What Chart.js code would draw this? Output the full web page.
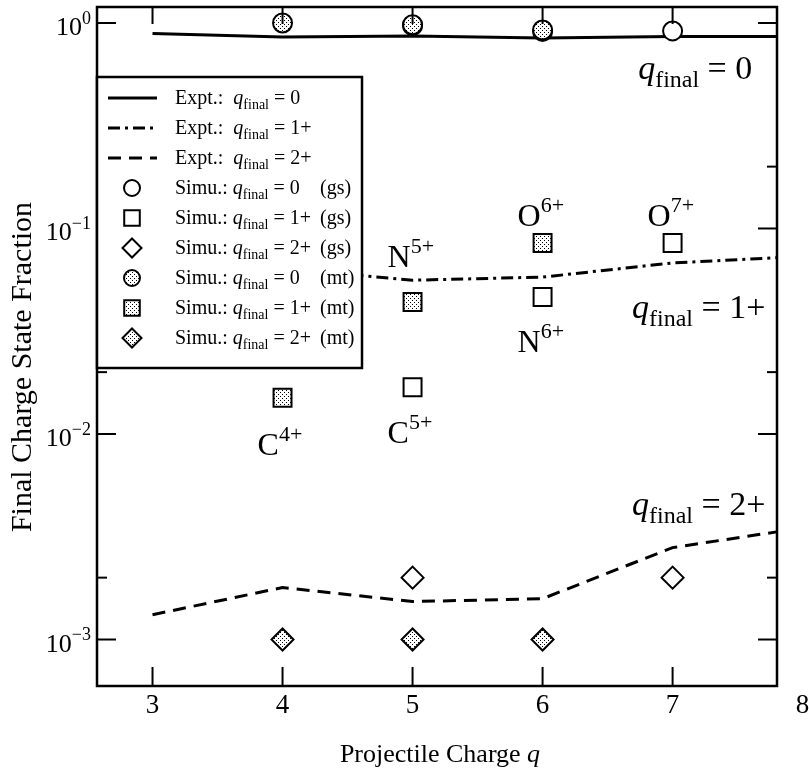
<!DOCTYPE html>
<html>
<head>
<meta charset="utf-8">
<script src="https://cdn.jsdelivr.net/npm/chart.js@4.4.0/dist/chart.umd.min.js"></script>
<style>
  html, body { margin: 0; padding: 0; background: #fff; }
  canvas { display: block; }
</style>
</head>
<body>
<canvas id="chart" width="809" height="779"></canvas>
<script>
// ---- data ----
const xTickValues = [3, 4, 5, 6, 7, 8];
const yMajorTicks = [1, 0.1, 0.01, 0.001];
const yMajorExponents = ['0', '\u22121', '\u22122', '\u22123'];
const yMinorTicks = [0.2, 0.02, 0.002];

const exptCharge = [3, 4, 5, 6, 7, 7.8];
const exptFinal0 = [0.89, 0.855, 0.865, 0.845, 0.86, 0.86];
const exptFinal1 = [0.075, 0.064, 0.056, 0.058, 0.068, 0.072];
const exptFinal2 = [0.00132, 0.00179, 0.00153, 0.00158, 0.0028, 0.00334];

const simuGs0Charge = [5, 6, 7];
const simuGs0 = [0.97, 0.91, 0.915];
const simuGs1Charge = [5, 6, 7];
const simuGs1 = [0.0169, 0.0464, 0.085];
const simuGs2Charge = [5, 7];
const simuGs2 = [0.002, 0.002];

const simuMt0Charge = [4, 5, 6];
const simuMt0 = [1.0, 0.98, 0.925];
const simuMt1Charge = [4, 5, 6];
const simuMt1 = [0.015, 0.0439, 0.085];
const simuMt2Charge = [4, 5, 6];
const simuMt2 = [0.001, 0.001, 0.001];

// ion labels: element, charge, projectile charge, fraction at text baseline
const ionNames = ['C', 'C', 'N', 'N', 'O', 'O'];
const ionCharges = ['4+', '5+', '5+', '6+', '6+', '7+'];
const ionAtQ = [4, 5, 5, 6, 6, 7];
const ionAtFraction = [0.0079, 0.00904, 0.065, 0.0251, 0.1028, 0.1028];

// q_final curve labels
const finalNames = ['0', '1+', '2+'];
const finalAtQ = [6.735, 6.688, 6.688];
const finalAtFraction = [0.534, 0.0367, 0.00403];

const xRange = [2.573, 7.803];
const yRange = [5.94e-4, 1.196];

// ---- helpers ----
const FONT = '"Liberation Serif", "Times New Roman", serif';
const pts = (xs, ys) => xs.map((q, i) => ({ x: q, y: ys[i] }));

const makeStipple = () => {
    const c = document.createElement('canvas');
    c.width = 4; c.height = 4;
    const g = c.getContext('2d');
    g.fillStyle = '#fff';
    g.fillRect(0, 0, 4, 4);
    g.fillStyle = '#000';
    g.fillRect(0, 0, 1, 1);
    g.fillRect(2, 2, 1, 1);
    return g.createPattern(c, 'repeat');
};
const stipple = makeStipple();

// parts: [text, kind]; kind r = roman, i = italic, sub, sup
function richText(ctx, x, y, parts, size, align, ratio = 0.7) {
    const small = Math.round(size * ratio);
    const fontFor = k => (k === 'i' ? 'italic ' : '') + (k === 'sub' || k === 'sup' ? small : size) + 'px ' + FONT;
    let w = 0;
    parts.forEach(([t, k]) => { ctx.font = fontFor(k); w += ctx.measureText(t).width; });
    let cx = align === 'right' ? x - w : align === 'center' ? x - w / 2 : x;
    ctx.textAlign = 'left';
    ctx.textBaseline = 'alphabetic';
    parts.forEach(([t, k]) => {
        ctx.font = fontFor(k);
        const dy = k === 'sub' ? size * 0.24 : k === 'sup' ? -size * 0.44 : 0;
        ctx.fillText(t, cx, y + dy);
        cx += ctx.measureText(t).width;
    });
    return w;
}

function marker(ctx, style, x, y, r, fill) {
    ctx.beginPath();
    if (style === 'circle') {
        ctx.arc(x, y, r, 0, Math.PI * 2);
    } else if (style === 'rect') {
        const s = r * Math.SQRT1_2;
        ctx.rect(x - s, y - s, 2 * s, 2 * s);
    } else {
        ctx.moveTo(x, y - r); ctx.lineTo(x + r, y); ctx.lineTo(x, y + r); ctx.lineTo(x - r, y); ctx.closePath();
    }
    ctx.fillStyle = fill;
    ctx.fill();
    ctx.lineWidth = 2;
    ctx.strokeStyle = '#000';
    ctx.stroke();
}

const DASHDOT = [12, 5, 3, 5];
const DASH = [13, 8];

const legendRows = [
    { group: 'Expt.:', state: '0', method: '', mark: 'line', dash: [] },
    { group: 'Expt.:', state: '1+', method: '', mark: 'line', dash: DASHDOT },
    { group: 'Expt.:', state: '2+', method: '', mark: 'line', dash: DASH },
    { group: 'Simu.:', state: '0', method: '(gs)', mark: 'circle', fill: '#fff' },
    { group: 'Simu.:', state: '1+', method: '(gs)', mark: 'rect', fill: '#fff' },
    { group: 'Simu.:', state: '2+', method: '(gs)', mark: 'diamond', fill: '#fff' },
    { group: 'Simu.:', state: '0', method: '(mt)', mark: 'circle', fill: stipple },
    { group: 'Simu.:', state: '1+', method: '(mt)', mark: 'rect', fill: stipple },
    { group: 'Simu.:', state: '2+', method: '(mt)', mark: 'diamond', fill: stipple }
];

// ---- decorations: frame, ticks, legend, labels ----
const decorations = {
    id: 'decorations',
    afterDatasetsDraw(chart) {
        const { ctx, chartArea: a, scales: { x, y } } = chart;
        ctx.save();
        ctx.strokeStyle = '#000';
        ctx.fillStyle = '#000';
        ctx.setLineDash([]);
        ctx.lineWidth = 2;
        const line = (x1, y1, x2, y2) => { ctx.beginPath(); ctx.moveTo(x1, y1); ctx.lineTo(x2, y2); ctx.stroke(); };

        xTickValues.forEach(v => {
            if (v < x.min || v > x.max) return;
            const px = x.getPixelForValue(v);
            line(px, a.bottom, px, a.bottom - 19);
            line(px, a.top, px, a.top + 17);
        });
        yMajorTicks.forEach(v => {
            const py = y.getPixelForValue(v);
            line(a.left, py, a.left + 19, py);
            line(a.right, py, a.right - 19, py);
        });
        yMinorTicks.forEach(v => {
            const py = y.getPixelForValue(v);
            line(a.left, py, a.left + 10, py);
            line(a.right, py, a.right - 10, py);
        });

        ctx.lineWidth = 2.5;
        ctx.strokeRect(a.left, a.top, a.right - a.left, a.bottom - a.top);

        // legend
        const lx = a.left, ly = 77, lw = 265, lh = 291;
        ctx.fillStyle = '#fff';
        ctx.fillRect(lx, ly, lw, lh);
        ctx.strokeRect(lx, ly, lw, lh);
        legendRows.forEach((row, i) => {
            const cy = 98 + i * 30;
            if (row.mark === 'line') {
                ctx.lineWidth = 3;
                ctx.setLineDash(row.dash);
                line(108, cy, 157, cy);
                ctx.setLineDash([]);
            } else {
                const r = row.mark === 'circle' ? 8 : row.mark === 'rect' ? 11 : 9.5;
                marker(ctx, row.mark, 132, cy, r, row.fill);
            }
            ctx.fillStyle = '#000';
            richText(ctx, 175, cy + 6, [[row.group + (row.group === 'Expt.:' ? '  ' : ' '), 'r'], ['q', 'i'], ['final', 'sub'], [' = ' + row.state, 'r']], 20, 'left', 0.68);
            if (row.method) {
                ctx.font = '20px ' + FONT;
                ctx.textAlign = 'left';
                ctx.fillText(row.method, 320, cy + 6);
            }
        });

        // ion labels
        ctx.fillStyle = '#000';
        ionNames.forEach((name, i) => {
            const px = x.getPixelForValue(ionAtQ[i]) - 25;
            const py = y.getPixelForValue(ionAtFraction[i]);
            richText(ctx, px, py, [[name, 'r'], [ionCharges[i], 'sup']], 32, 'left');
        });

        // q_final labels
        finalNames.forEach((name, i) => {
            const px = x.getPixelForValue(finalAtQ[i]);
            const py = y.getPixelForValue(finalAtFraction[i]);
            richText(ctx, px, py, [['q', 'i'], ['final', 'sub'], [' = ' + name, 'r']], 34, 'left');
        });
        ctx.restore();
    },
    afterDraw(chart) {
        const { ctx, chartArea: a, scales: { x, y } } = chart;
        ctx.save();
        ctx.fillStyle = '#000';
        // x tick labels
        ctx.font = '27px ' + FONT;
        ctx.textAlign = 'center';
        ctx.textBaseline = 'alphabetic';
        xTickValues.forEach(v => {
            ctx.fillText(String(v), x.getPixelForValue(v), 713);
        });
        // y tick labels
        yMajorTicks.forEach((v, i) => {
            const py = y.getPixelForValue(v);
            richText(ctx, 91, py + 12, [['10', 'r'], [yMajorExponents[i], 'sup']], 26, 'right', 0.68);
        });
        // axis titles
        richText(ctx, (a.left + a.right) / 2 + 3, 762, [['Projectile Charge ', 'r'], ['q', 'i']], 26, 'center');
        ctx.translate(31, 367);
        ctx.rotate(-Math.PI / 2);
        ctx.font = '30px ' + FONT;
        ctx.textAlign = 'center';
        ctx.fillText('Final Charge State Fraction', 0, 0);
        ctx.restore();
    }
};

const lineSet = (data, dash) => ({
    data, showLine: true, borderColor: '#000', borderWidth: 3, borderDash: dash,
    pointRadius: 0, tension: 0, fill: false, order: 2
});
const markSet = (data, style, r, fill, order) => ({
    data, showLine: false, pointStyle: style, pointRadius: r,
    pointBackgroundColor: fill, pointBorderColor: '#000', pointBorderWidth: 2, order
});

new Chart(document.getElementById('chart'), {
    type: 'scatter',
    data: {
        datasets: [
            lineSet(pts(exptCharge, exptFinal0), []),
            lineSet(pts(exptCharge, exptFinal1), DASHDOT),
            lineSet(pts(exptCharge, exptFinal2), DASH),
            markSet(pts(simuGs0Charge, simuGs0), 'circle', 9.5, '#fff', 1),
            markSet(pts(simuGs1Charge, simuGs1), 'rect', 12.7, '#fff', 1),
            markSet(pts(simuGs2Charge, simuGs2), 'rectRot', 11, '#fff', 1),
            markSet(pts(simuMt0Charge, simuMt0), 'circle', 9.5, stipple, 0),
            markSet(pts(simuMt1Charge, simuMt1), 'rect', 12.7, stipple, 0),
            markSet(pts(simuMt2Charge, simuMt2), 'rectRot', 11, stipple, 0)
        ]
    },
    options: {
        responsive: false,
        animation: false,
        layout: { autoPadding: false, padding: { left: 97, top: 7, right: 32, bottom: 93 } },
        plugins: { legend: { display: false }, tooltip: { enabled: false } },
        scales: {
            x: { type: 'linear', min: xRange[0], max: xRange[1], display: false },
            y: { type: 'logarithmic', min: yRange[0], max: yRange[1], display: false }
        }
    },
    plugins: [decorations]
});
</script>
</body>
</html>
